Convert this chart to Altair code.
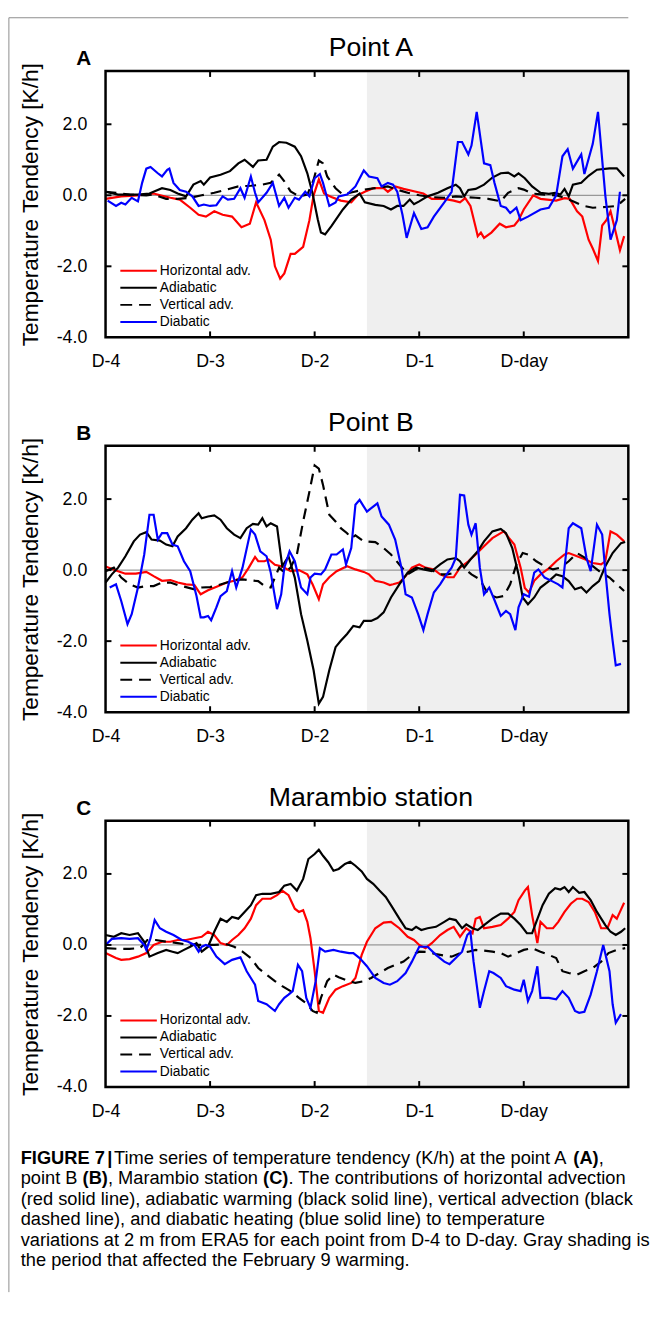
import altair as alt
import pandas as pd

FONT = "Liberation Sans"
W, H = 530, 270
X_DOMAIN = [0, 5]
Y_DOMAIN = [-4, 3.5]

x_tick_values = [0, 1, 2, 3, 4]
x_tick_labels = ["D-4", "D-3", "D-2", "D-1", "D-day"]
y_tick_values = [-4, -2, 0, 2]
shade_start = [2.5]
shade_end = [5.0]

series_names = ["Horizontal adv.", "Adiabatic", "Vertical adv.", "Diabatic"]
series_colors = ["#ff0000", "#000000", "#000000", "#0000ff"]
series_dashes = [None, None, [11, 7], None]

panel_titles = ["Point A", "Point B", "Marambio station"]
panel_letters = ["A", "B", "C"]
y_title = "Temperature Tendency [K/h]"

# ---------------- Panel A ----------------
A_hadv = [(0, -0.1), (0.15, -0.03), (0.31, 0.0), (0.46, 0.05), (0.62, -0.07), (0.71, -0.12), (0.81, -0.35),
          (0.89, -0.55), (0.96, -0.6), (1.04, -0.45), (1.12, -0.55), (1.21, -0.6), (1.3, -0.9), (1.38, -0.8),
          (1.44, -0.2), (1.52, -0.7), (1.58, -1.25), (1.62, -2.0), (1.67, -2.35), (1.71, -2.2), (1.77, -1.65),
          (1.81, -1.65), (1.87, -1.5), (1.89, -1.45), (1.95, -0.7), (1.99, 0.0), (2.04, 0.45), (2.09, 0.05),
          (2.16, -0.05), (2.25, -0.15), (2.35, -0.2), (2.41, 0.0), (2.48, 0.1), (2.56, 0.2), (2.66, 0.2),
          (2.7, 0.1), (2.77, 0.25), (2.85, 0.18), (2.97, 0.1), (3.04, 0.05), (3.12, -0.1), (3.24, -0.1),
          (3.33, -0.15), (3.39, -0.2), (3.44, -0.08), (3.49, -0.3), (3.54, -0.9), (3.56, -1.15), (3.59, -1.05),
          (3.62, -1.2), (3.69, -1.05), (3.77, -0.8), (3.83, -0.9), (3.91, -0.85), (3.95, -0.7), (4.0, -0.4),
          (4.09, 0.0), (4.16, -0.1), (4.31, -0.15), (4.39, -0.08), (4.44, -0.1), (4.51, -0.45), (4.56, -0.6),
          (4.62, -1.25), (4.66, -1.5), (4.71, -1.85), (4.75, -0.85), (4.79, -0.7), (4.83, -0.45), (4.88, -1.05),
          (4.92, -1.55), (4.96, -1.15)]
A_adia = [(0, 0.1), (0.12, 0.02), (0.31, 0.02), (0.42, 0.05), (0.54, 0.2), (0.62, 0.15), (0.69, 0.05),
          (0.77, -0.03), (0.84, 0.3), (0.91, 0.4), (0.94, 0.3), (1.0, 0.5), (1.1, 0.58), (1.19, 0.68), (1.27, 0.9),
          (1.33, 1.0), (1.41, 0.8), (1.46, 0.98), (1.54, 1.0), (1.6, 1.37), (1.66, 1.5), (1.73, 1.48),
          (1.81, 1.37), (1.87, 1.1), (1.93, 0.62), (1.98, 0.05), (2.03, -0.68), (2.06, -1.05), (2.1, -1.1),
          (2.16, -0.87), (2.27, -0.4), (2.35, -0.12), (2.43, 0.05), (2.48, -0.2), (2.58, -0.27), (2.66, -0.3),
          (2.73, -0.4), (2.79, -0.3), (2.85, -0.3), (2.91, -0.12), (2.95, -0.25), (3.0, -0.17), (3.08, -0.03),
          (3.18, 0.07), (3.27, 0.2), (3.35, 0.3), (3.39, 0.2), (3.43, -0.03), (3.47, 0.15), (3.54, 0.18),
          (3.62, 0.3), (3.7, 0.5), (3.78, 0.62), (3.85, 0.64), (3.91, 0.53), (3.95, 0.62), (4.01, 0.48),
          (4.08, 0.25), (4.16, 0.07), (4.24, 0.04), (4.3, 0.07), (4.35, 0.02), (4.39, 0.18), (4.43, -0.03),
          (4.47, 0.3), (4.55, 0.35), (4.62, 0.55), (4.7, 0.72), (4.82, 0.76), (4.89, 0.76), (4.96, 0.53)]
A_vert = [(0, 0.1), (0.1, 0.07), (0.23, 0.02), (0.39, 0.0), (0.46, 0.02), (0.58, -0.1), (0.69, -0.1),
          (0.81, -0.07), (0.92, 0.0), (1.04, 0.07), (1.16, 0.16), (1.27, 0.25), (1.39, 0.27), (1.5, 0.3),
          (1.58, 0.35), (1.66, 0.58), (1.71, 0.39), (1.77, 0.11), (1.85, -0.03), (1.93, 0.02), (1.99, 0.44),
          (2.04, 0.98), (2.08, 0.9), (2.12, 0.53), (2.2, 0.2), (2.27, 0.02), (2.35, 0.08), (2.47, 0.16),
          (2.58, 0.2), (2.7, 0.25), (2.81, 0.14), (2.89, 0.07), (3.0, 0.0), (3.12, -0.05), (3.24, -0.07),
          (3.35, -0.03), (3.43, -0.05), (3.54, -0.07), (3.66, -0.1), (3.78, -0.17), (3.85, 0.07), (3.95, 0.2),
          (4.0, 0.16), (4.08, 0.05), (4.2, 0.02), (4.31, 0.0), (4.39, -0.07), (4.47, -0.17), (4.56, -0.29),
          (4.66, -0.35), (4.78, -0.33), (4.89, -0.3), (4.97, -0.1)]
A_diab = [(0.02, -0.15), (0.1, -0.3), (0.15, -0.21), (0.19, -0.26), (0.25, -0.07), (0.31, -0.17), (0.35, 0.35),
          (0.39, 0.75), (0.43, 0.8), (0.5, 0.62), (0.54, 0.53), (0.59, 0.72), (0.61, 0.75), (0.65, 0.35),
          (0.71, 0.15), (0.77, 0.1), (0.83, -0.03), (0.89, -0.3), (0.94, -0.26), (1.0, -0.3), (1.06, -0.28),
          (1.12, -0.03), (1.17, -0.12), (1.23, -0.1), (1.29, 0.2), (1.33, -0.07), (1.39, 0.53), (1.43, 0.07),
          (1.46, -0.2), (1.54, 0.07), (1.6, 0.35), (1.66, -0.3), (1.71, -0.07), (1.75, -0.35), (1.81, -0.07),
          (1.85, -0.12), (1.91, 0.1), (1.95, -0.03), (2.0, 0.48), (2.05, 0.6), (2.08, 0.35), (2.14, -0.3),
          (2.2, -0.2), (2.23, -0.03), (2.31, 0.02), (2.39, 0.25), (2.47, 0.7), (2.52, 0.53), (2.6, 0.48),
          (2.64, 0.25), (2.7, 0.35), (2.75, 0.3), (2.79, 0.1), (2.84, -0.55), (2.88, -1.2), (2.95, -0.5),
          (3.02, -0.95), (3.08, -0.9), (3.14, -0.6), (3.24, -0.2), (3.31, 0.1), (3.37, 1.5), (3.41, 1.5),
          (3.47, 1.15), (3.5, 1.4), (3.55, 2.35), (3.62, 0.9), (3.68, 0.85), (3.72, 0.35), (3.78, -0.3),
          (3.83, -0.35), (3.87, -0.5), (3.93, -0.35), (3.97, -0.7), (4.04, -0.6), (4.16, -0.4), (4.24, -0.35),
          (4.31, 0.0), (4.37, 1.1), (4.42, 1.3), (4.47, 0.75), (4.55, 1.15), (4.58, 0.6), (4.66, 1.45),
          (4.71, 2.35), (4.78, 0.0), (4.83, -1.25), (4.89, -0.7), (4.92, 0.1)]

# ---------------- Panel B ----------------
B_hadv = [(0, 0.1), (0.12, -0.03), (0.19, -0.1), (0.29, -0.1), (0.39, -0.05), (0.46, -0.17), (0.54, -0.3),
          (0.62, -0.28), (0.69, -0.35), (0.77, -0.4), (0.85, -0.42), (0.91, -0.68), (0.98, -0.57), (1.08, -0.45),
          (1.16, -0.35), (1.23, -0.3), (1.31, -0.2), (1.37, 0.07), (1.43, 0.37), (1.46, 0.25), (1.52, 0.25),
          (1.56, 0.3), (1.62, 0.15), (1.69, 0.1), (1.77, -0.03), (1.85, 0.0), (1.93, -0.12), (1.98, -0.4),
          (2.04, -0.82), (2.08, -0.4), (2.14, -0.2), (2.21, -0.03), (2.31, 0.11), (2.39, 0.02), (2.47, -0.05),
          (2.52, -0.12), (2.58, -0.3), (2.66, -0.35), (2.72, -0.42), (2.75, -0.4), (2.81, -0.35), (2.87, -0.17),
          (2.93, 0.07), (3.0, 0.16), (3.06, 0.07), (3.14, 0.02), (3.2, -0.12), (3.27, -0.2), (3.33, -0.2),
          (3.39, 0.07), (3.47, 0.25), (3.54, 0.44), (3.62, 0.67), (3.7, 0.9), (3.78, 1.04), (3.81, 1.09),
          (3.86, 0.9), (3.91, 0.72), (3.97, 0.07), (4.01, -0.5), (4.05, -0.63), (4.1, -0.3), (4.16, -0.12),
          (4.24, 0.05), (4.31, 0.25), (4.39, 0.44), (4.43, 0.48), (4.51, 0.39), (4.59, 0.3), (4.66, 0.2),
          (4.74, 0.16), (4.78, 0.25), (4.83, 1.09), (4.89, 1.0), (4.96, 0.81)]
B_adia = [(0, -0.35), (0.06, -0.12), (0.12, 0.07), (0.19, 0.39), (0.27, 0.81), (0.33, 1.0), (0.39, 1.07),
          (0.44, 0.86), (0.52, 0.83), (0.58, 0.72), (0.64, 0.67), (0.69, 0.95), (0.77, 1.18), (0.83, 1.42),
          (0.89, 1.6), (0.92, 1.46), (0.98, 1.51), (1.04, 1.54), (1.1, 1.42), (1.16, 1.18), (1.23, 1.0),
          (1.29, 0.9), (1.35, 1.18), (1.41, 1.3), (1.46, 1.28), (1.5, 1.46), (1.54, 1.23), (1.58, 1.32),
          (1.64, 1.23), (1.69, 0.11), (1.75, 0.39), (1.81, -0.21), (1.87, -1.24), (1.93, -1.99), (1.99, -2.82),
          (2.04, -3.76), (2.08, -3.57), (2.14, -2.82), (2.2, -2.17), (2.25, -1.99), (2.31, -1.8), (2.37, -1.57),
          (2.43, -1.61), (2.47, -1.43), (2.54, -1.43), (2.6, -1.35), (2.66, -1.19), (2.73, -0.77), (2.81, -0.4),
          (2.89, -0.07), (2.97, 0.07), (3.04, 0.02), (3.12, -0.03), (3.2, 0.16), (3.27, 0.3), (3.35, 0.34),
          (3.39, 0.25), (3.43, 0.07), (3.49, 0.3), (3.56, 0.53), (3.62, 0.81), (3.7, 1.09), (3.78, 1.16),
          (3.83, 1.04), (3.89, 0.62), (3.95, -0.12), (3.99, -0.77), (4.04, -0.96), (4.1, -0.77), (4.16, -0.49),
          (4.24, -0.31), (4.31, -0.12), (4.37, -0.17), (4.43, -0.31), (4.49, -0.54), (4.55, -0.48), (4.6, -0.63),
          (4.66, -0.45), (4.72, -0.31), (4.78, 0.11), (4.85, 0.48), (4.93, 0.76), (4.97, 0.79)]
B_vert = [(0, -0.03), (0.08, 0.07), (0.15, -0.21), (0.23, -0.4), (0.31, -0.49), (0.39, -0.45), (0.46, -0.45),
          (0.54, -0.35), (0.62, -0.35), (0.69, -0.42), (0.77, -0.48), (0.85, -0.54), (0.92, -0.49), (1.0, -0.48),
          (1.08, -0.42), (1.16, -0.35), (1.23, -0.29), (1.31, -0.26), (1.39, -0.29), (1.46, -0.31), (1.52, -0.45),
          (1.58, -0.49), (1.66, 0.07), (1.71, -0.07), (1.77, 0.07), (1.83, 0.44), (1.89, 1.37), (1.95, 2.21),
          (2.0, 2.95), (2.04, 2.86), (2.08, 2.4), (2.14, 1.56), (2.2, 1.37), (2.25, 1.18), (2.31, 1.04),
          (2.35, 0.9), (2.39, 0.98), (2.47, 0.81), (2.58, 0.79), (2.66, 0.62), (2.73, 0.44), (2.81, 0.16),
          (2.89, -0.12), (2.97, 0.02), (3.04, 0.07), (3.12, 0.0), (3.2, -0.12), (3.27, -0.12), (3.35, -0.07),
          (3.41, 0.16), (3.45, 0.0), (3.5, -0.12), (3.58, -0.26), (3.66, -0.68), (3.74, -0.77), (3.81, -0.73),
          (3.87, -0.4), (3.93, 0.16), (3.99, 0.48), (4.04, 0.44), (4.12, 0.25), (4.2, 0.11), (4.28, 0.02),
          (4.35, 0.07), (4.43, 0.25), (4.51, 0.48), (4.59, 0.34), (4.66, 0.11), (4.74, -0.07), (4.82, -0.21),
          (4.89, -0.4), (4.96, -0.59)]
B_diab = [(0.04, -0.49), (0.1, -0.4), (0.15, -0.87), (0.21, -1.52), (0.25, -1.24), (0.31, -0.49), (0.37, 0.44),
          (0.42, 1.56), (0.46, 1.56), (0.5, 0.86), (0.54, 1.04), (0.59, 1.04), (0.64, 0.72), (0.69, 0.67),
          (0.75, 0.25), (0.81, -0.03), (0.87, -0.73), (0.91, -1.33), (0.94, -1.33), (0.98, -1.29), (1.01, -1.41),
          (1.06, -1.05), (1.1, -0.73), (1.16, -0.59), (1.21, -0.03), (1.25, -0.49), (1.31, 0.07), (1.39, 1.14),
          (1.43, 1.0), (1.48, 0.53), (1.54, 0.39), (1.58, -0.07), (1.64, -1.1), (1.68, -0.68), (1.71, 0.07),
          (1.76, 0.53), (1.81, 0.25), (1.87, -0.49), (1.93, -0.68), (1.96, -0.21), (2.0, -0.1), (2.06, -0.12),
          (2.1, 0.02), (2.16, 0.44), (2.21, 0.44), (2.27, 0.58), (2.3, 0.16), (2.35, 0.62), (2.39, 1.84),
          (2.43, 1.98), (2.47, 1.79), (2.5, 1.65), (2.56, 1.79), (2.6, 1.88), (2.64, 1.51), (2.71, 1.28),
          (2.77, 0.86), (2.83, 0.07), (2.87, -0.68), (2.93, -0.77), (2.99, -1.24), (3.04, -1.69), (3.08, -1.24),
          (3.14, -0.63), (3.2, -0.4), (3.25, -0.17), (3.31, 0.07), (3.35, 0.34), (3.39, 2.12), (3.43, 2.1),
          (3.47, 1.28), (3.5, 1.0), (3.54, 1.32), (3.58, 0.07), (3.62, -0.68), (3.67, -0.49), (3.71, -0.77),
          (3.78, -1.29), (3.83, -1.15), (3.87, -1.24), (3.92, -1.69), (3.95, -1.05), (4.0, -0.68), (4.05, -0.75),
          (4.1, -0.07), (4.14, 0.02), (4.2, -0.21), (4.27, -0.31), (4.33, -0.4), (4.37, -0.49), (4.43, 1.18),
          (4.47, 1.32), (4.55, 1.18), (4.6, 0.34), (4.64, -0.03), (4.7, 1.28), (4.75, 1.0), (4.78, -0.03),
          (4.82, -1.24), (4.85, -1.99), (4.88, -2.68), (4.93, -2.64)]

# ---------------- Panel C ----------------
C_hadv = [(0, -0.23), (0.1, -0.37), (0.15, -0.42), (0.23, -0.4), (0.31, -0.33), (0.39, -0.23), (0.46, 0.0),
          (0.54, 0.09), (0.62, 0.09), (0.69, 0.14), (0.77, 0.14), (0.85, 0.19), (0.92, 0.23), (0.98, 0.37),
          (1.04, 0.28), (1.1, 0.05), (1.16, 0.0), (1.21, 0.14), (1.27, 0.28), (1.33, 0.47), (1.39, 0.74),
          (1.44, 1.12), (1.5, 1.3), (1.58, 1.3), (1.64, 1.4), (1.69, 1.53), (1.75, 1.4), (1.81, 1.02),
          (1.85, 0.93), (1.89, 0.98), (1.93, 0.65), (1.96, 0.19), (2.0, -0.74), (2.04, -1.86), (2.08, -1.91),
          (2.14, -1.49), (2.2, -1.26), (2.27, -1.16), (2.35, -1.07), (2.39, -0.93), (2.45, -0.28), (2.5, 0.09),
          (2.58, 0.47), (2.66, 0.63), (2.73, 0.65), (2.81, 0.47), (2.89, 0.23), (2.95, 0.14), (3.0, 0.0),
          (3.06, -0.09), (3.12, 0.05), (3.2, 0.28), (3.27, 0.42), (3.33, 0.51), (3.39, 0.23), (3.45, 0.47),
          (3.51, 0.33), (3.54, 0.74), (3.58, 0.79), (3.62, 0.47), (3.7, 0.51), (3.78, 0.56), (3.85, 0.74),
          (3.91, 0.93), (3.95, 1.26), (4.01, 1.53), (4.04, 1.63), (4.08, 0.84), (4.13, 0.05), (4.16, 0.65),
          (4.22, 0.47), (4.28, 0.47), (4.33, 0.65), (4.39, 0.93), (4.45, 1.16), (4.51, 1.3), (4.56, 1.3),
          (4.62, 1.21), (4.68, 0.93), (4.74, 0.47), (4.8, 0.47), (4.85, 0.84), (4.89, 0.74), (4.92, 0.93),
          (4.96, 1.19)]
C_adia = [(0, 0.28), (0.08, 0.23), (0.15, 0.33), (0.23, 0.28), (0.31, 0.33), (0.37, 0.09), (0.42, -0.33),
          (0.5, -0.23), (0.58, -0.14), (0.64, -0.19), (0.69, -0.23), (0.75, -0.14), (0.81, -0.05), (0.87, 0.05),
          (0.92, -0.19), (0.98, -0.05), (1.04, 0.37), (1.1, 0.74), (1.16, 0.65), (1.21, 0.79), (1.27, 0.74),
          (1.33, 0.93), (1.39, 1.12), (1.44, 1.4), (1.5, 1.44), (1.58, 1.44), (1.66, 1.49), (1.71, 1.67),
          (1.77, 1.72), (1.83, 1.53), (1.89, 1.86), (1.94, 2.42), (2.0, 2.56), (2.04, 2.68), (2.08, 2.51),
          (2.13, 2.33), (2.18, 2.09), (2.23, 2.14), (2.29, 2.28), (2.34, 2.34), (2.39, 2.23), (2.45, 2.07),
          (2.5, 1.86), (2.56, 1.72), (2.62, 1.53), (2.68, 1.35), (2.73, 1.12), (2.81, 0.74), (2.87, 0.47),
          (2.93, 0.42), (2.97, 0.51), (3.02, 0.42), (3.08, 0.47), (3.16, 0.51), (3.24, 0.65), (3.29, 0.74),
          (3.35, 0.7), (3.41, 0.47), (3.45, 0.58), (3.51, 0.47), (3.56, 0.42), (3.62, 0.56), (3.7, 0.74),
          (3.78, 0.88), (3.85, 0.88), (3.91, 0.74), (3.97, 0.56), (4.03, 0.33), (4.08, 0.33), (4.12, 0.65),
          (4.18, 1.12), (4.24, 1.44), (4.3, 1.6), (4.35, 1.56), (4.39, 1.63), (4.43, 1.49), (4.47, 1.63),
          (4.53, 1.47), (4.58, 1.49), (4.64, 1.26), (4.7, 0.93), (4.78, 0.56), (4.83, 0.37), (4.88, 0.28),
          (4.93, 0.37), (4.97, 0.47)]
C_vert = [(0, -0.09), (0.12, -0.11), (0.23, -0.11), (0.33, -0.09), (0.4, 0.14), (0.48, 0.14), (0.58, 0.09),
          (0.69, 0.05), (0.81, 0.0), (0.92, 0.0), (1.04, 0.0), (1.16, 0.02), (1.23, -0.05), (1.31, -0.19),
          (1.39, -0.37), (1.46, -0.65), (1.54, -0.84), (1.62, -1.02), (1.69, -1.16), (1.77, -1.3), (1.85, -1.49),
          (1.93, -1.67), (1.98, -1.86), (2.02, -1.91), (2.06, -1.49), (2.12, -1.02), (2.18, -0.84), (2.23, -0.91),
          (2.31, -1.0), (2.39, -1.07), (2.47, -1.02), (2.54, -0.93), (2.62, -0.79), (2.7, -0.65), (2.77, -0.56),
          (2.85, -0.47), (2.93, -0.28), (3.0, -0.19), (3.08, -0.2), (3.16, -0.26), (3.24, -0.3), (3.31, -0.33),
          (3.39, -0.23), (3.47, -0.19), (3.54, -0.14), (3.62, -0.16), (3.7, -0.19), (3.78, -0.23), (3.85, -0.33),
          (3.93, -0.23), (4.0, -0.14), (4.08, -0.09), (4.16, -0.19), (4.24, -0.28), (4.31, -0.37), (4.37, -0.74),
          (4.43, -0.79), (4.51, -0.84), (4.58, -0.74), (4.66, -0.65), (4.74, -0.47), (4.81, -0.23), (4.89, -0.14),
          (4.97, -0.09)]
C_diab = [(0, 0.0), (0.06, 0.17), (0.15, 0.19), (0.23, 0.17), (0.31, 0.19), (0.37, 0.0), (0.39, -0.14),
          (0.43, 0.19), (0.47, 0.7), (0.52, 0.47), (0.58, 0.37), (0.65, 0.28), (0.73, 0.14), (0.79, 0.09),
          (0.85, 0.0), (0.89, -0.19), (0.92, -0.05), (0.96, 0.0), (1.0, -0.05), (1.06, -0.33), (1.14, -0.54),
          (1.21, -0.42), (1.29, -0.35), (1.35, -0.74), (1.43, -1.12), (1.46, -1.58), (1.54, -1.67), (1.62, -1.86),
          (1.66, -1.67), (1.71, -1.49), (1.75, -1.4), (1.79, -1.3), (1.84, -0.56), (1.88, -0.74), (1.92, -1.49),
          (1.96, -1.77), (2.01, -1.02), (2.05, -0.09), (2.1, -0.19), (2.18, -0.14), (2.25, -0.19), (2.33, -0.23),
          (2.37, -0.23), (2.43, -0.37), (2.5, -0.6), (2.58, -0.93), (2.66, -1.07), (2.72, -1.12), (2.79, -1.02),
          (2.87, -0.79), (2.93, -0.47), (3.0, -0.05), (3.08, -0.05), (3.16, -0.28), (3.24, -0.47), (3.29, -0.54),
          (3.35, -0.37), (3.41, -0.19), (3.46, 0.28), (3.49, 0.37), (3.52, -0.47), (3.58, -1.77), (3.62, -1.3),
          (3.67, -0.74), (3.71, -0.79), (3.78, -0.93), (3.83, -1.16), (3.91, -1.26), (3.97, -1.3), (4.0, -0.98),
          (4.04, -1.58), (4.08, -1.3), (4.13, -0.6), (4.16, -1.49), (4.24, -1.49), (4.31, -1.53), (4.37, -1.3),
          (4.43, -1.49), (4.49, -1.86), (4.53, -1.91), (4.58, -1.88), (4.64, -1.4), (4.7, -0.74), (4.76, 0.0),
          (4.82, -0.74), (4.85, -1.67), (4.88, -2.19), (4.93, -1.95)]

panel_series = [
    [A_hadv, A_adia, A_vert, A_diab],
    [B_hadv, B_adia, B_vert, B_diab],
    [C_hadv, C_adia, C_vert, C_diab],
]

caption_lines = [
    [("FIGURE 7", True, 2.5), ("|", True, 1.5),
     ("Time series of temperature tendency (K/h) at the point A ", False, 0), ("(A)", True, 0), (",", False, 0)],
    [("point B ", False, 0), ("(B)", True, 0), (", Marambio station ", False, 0), ("(C)", True, 0),
     (". The contributions of horizontal advection", False, 0)],
    [("(red solid line), adiabatic warming (black solid line), vertical advection (black", False, 0)],
    [("dashed line), and diabatic heating (blue solid line) to temperature", False, 0)],
    [("variations at 2 m from ERA5 for each point from D-4 to D-day. Gray shading is", False, 0)],
    [("the period that affected the February 9 warming.", False, 0)],
]

# Arial-compatible advance widths (per 1000 em) used to place bold runs inline
ARIAL = {' ': 278, '(': 333, ')': 333, ',': 278, '.': 278, '/': 278, 'A': 667, 'B': 667, 'C': 722, 'K': 667,
         'M': 833, 'T': 611, 'a': 556, 'b': 556, 'c': 500, 'd': 556, 'e': 556, 'f': 278, 'h': 556, 'i': 222,
         'l': 222, 'm': 833, 'n': 556, 'o': 556, 'p': 556, 'r': 333, 's': 500, 't': 278, 'u': 556, 'y': 500,
         'z': 500, 'v': 500, 'w': 722, 'g': 556}
ARIAL_BOLD = {' ': 278, '(': 333, ')': 333, 'A': 722, 'B': 722, 'C': 722, 'F': 611, 'I': 278, 'G': 778,
              'U': 722, 'R': 722, 'E': 667, '7': 556, '|': 280}

CAP_SIZE = 18.5


def text_w(s, bold):
    tbl = ARIAL_BOLD if bold else ARIAL
    return sum(tbl.get(ch, 556) for ch in s) / 1000.0 * CAP_SIZE


xs = alt.Scale(domain=X_DOMAIN, nice=False, zero=False)
ys = alt.Scale(domain=Y_DOMAIN, nice=False, zero=False)
x_label_expr = "[" + ",".join("'%s'" % s for s in x_tick_labels) + "][datum.value]"
xa = alt.Axis(values=x_tick_values, labelExpr=x_label_expr, ticks=False, tickSize=0, domain=False, grid=False,
              labelFontSize=18, labelFont=FONT, labelColor="black", labelPadding=16, labelFlush=False, title=None)
ya = alt.Axis(values=y_tick_values,
              labelExpr="(datum.value < 0 ? '-' : '') + format(abs(datum.value), '.1f')",
              ticks=False, tickSize=0, domain=False, grid=False, labelFontSize=18, labelFont=FONT,
              labelColor="black", labelPadding=19, labelFlush=False,
              title=y_title, titleFont=FONT, titleFontSize=23, titleFontWeight="normal", titleColor="black",
              titleAngle=270, titleX=-76, titleY=H / 2, titleAlign="center", titleBaseline="middle")

one = pd.DataFrame({"k": [0]})


def text_layer(txt, x, y, size, weight="normal", align="left", baseline="middle"):
    return alt.Chart(pd.DataFrame({"txt": [txt]})).mark_text(
        font=FONT, fontSize=size, fontWeight=weight, align=align, baseline=baseline, color="black"
    ).encode(text="txt:N", x=alt.value(x), y=alt.value(y))


def build_panel(i):
    layers = []
    layers.append(alt.Chart(pd.DataFrame({"s": shade_start, "e": shade_end})).mark_rect(color="#efefef").encode(
        x=alt.X("s:Q", scale=xs, axis=xa), x2="e:Q", y=alt.value(0), y2=alt.value(H)))
    layers.append(alt.Chart(pd.DataFrame({"z": [0.0]})).mark_rule(color="#808080", strokeWidth=1).encode(
        y=alt.Y("z:Q", scale=ys, axis=ya), x=alt.value(0), x2=alt.value(W)))
    for pairs, color, dash in zip(panel_series[i], series_colors, series_dashes):
        df = pd.DataFrame(pairs, columns=["t", "v"])
        kw = dict(color=color, strokeWidth=2.2)
        if dash:
            kw["strokeDash"] = dash
        layers.append(alt.Chart(df).mark_line(**kw).encode(
            x=alt.X("t:Q", scale=xs, axis=xa), y=alt.Y("v:Q", scale=ys, axis=ya)))
    xt = pd.DataFrame({"tv": x_tick_values[1:]})
    yt = pd.DataFrame({"tv": y_tick_values[1:]})
    for y0, y1 in [(0, 6), (H - 6, H)]:
        layers.append(alt.Chart(xt).mark_rule(color="black", strokeWidth=2).encode(
            x=alt.X("tv:Q", scale=xs, axis=xa), y=alt.value(y0), y2=alt.value(y1)))
    for x0, x1 in [(0, 6), (W - 6, W)]:
        layers.append(alt.Chart(yt).mark_rule(color="black", strokeWidth=2).encode(
            y=alt.Y("tv:Q", scale=ys, axis=ya), x=alt.value(x0), x2=alt.value(x1)))
    layers.append(alt.Chart(one).mark_rect(filled=False, stroke="black", strokeWidth=2.5).encode(
        x=alt.value(0), x2=alt.value(W), y=alt.value(0), y2=alt.value(H)))
    # legend inside the panel
    for k, (name, color, dash) in enumerate(zip(series_names, series_colors, series_dashes)):
        ry = 202.5 + 17.3 * k
        kw = dict(color=color, strokeWidth=2)
        if dash:
            kw["strokeDash"] = [12, 7]
        layers.append(alt.Chart(one).mark_rule(**kw).encode(x=alt.value(15), x2=alt.value(52), y=alt.value(ry)))
        layers.append(text_layer(name, 55, ry, 14))
    layers.append(text_layer(panel_titles[i], 269, -15, 27, align="center", baseline="alphabetic"))
    layers.append(text_layer(panel_letters[i], -22, -6, 21, weight="bold", align="center", baseline="alphabetic"))
    if i == 0:
        # outer figure border (top and left edges)
        layers.append(alt.Chart(one).mark_rule(color="#8c8c8c", strokeWidth=1).encode(
            x=alt.value(-98), x2=alt.value(530), y=alt.value(-54)))
        layers.append(alt.Chart(one).mark_rule(color="#8c8c8c", strokeWidth=1).encode(
            x=alt.value(-98), y=alt.value(-54), y2=alt.value(1238)))
    if i == 2:
        for li, segs in enumerate(caption_lines):
            cy = 342 + 20.8 * li
            cx = -86.0
            for txt, bold, gap in segs:
                layers.append(text_layer(txt, cx, cy, CAP_SIZE, weight="bold" if bold else "normal"))
                cx += text_w(txt, bold) + gap
    return alt.layer(*layers).properties(width=W, height=H)


chart = alt.vconcat(build_panel(0), build_panel(1), build_panel(2), spacing=110, bounds="flush").properties(
    padding={"left": 8, "top": 8, "right": 0, "bottom": 0}
).configure_view(stroke=None).configure(background="white")

chart.save("out.html", embed_options={"renderer": "svg", "actions": False})
